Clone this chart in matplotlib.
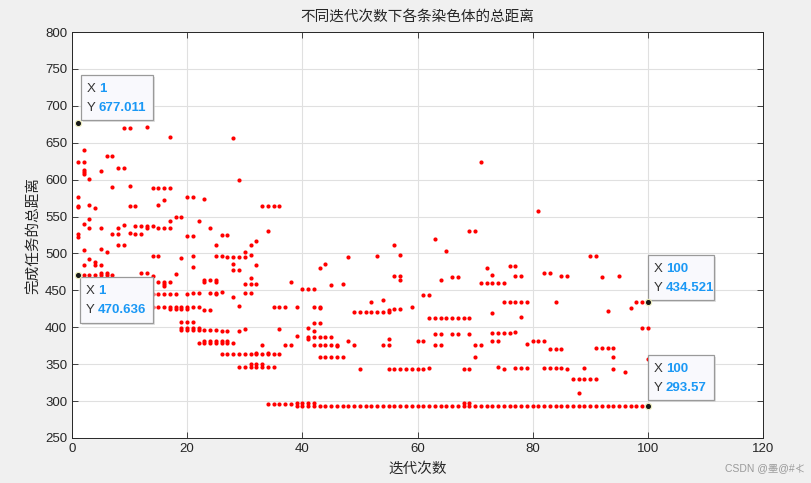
import matplotlib
matplotlib.use("Agg")
import matplotlib.pyplot as plt
from matplotlib.patches import Rectangle
from matplotlib.transforms import IdentityTransform, ScaledTranslation

plt.rcParams['font.family'] = ['Liberation Sans', 'Noto Sans CJK SC', 'DejaVu Sans']

# ---- data: distances of each chromosome per iteration ----
dist_iter_01_25 = [
    [677.011, 624, 577, 564, 563, 526, 522, 470.636],
    [640.5, 624, 613, 610, 607, 539.5, 505, 484, 470.3],
    [601, 566, 547, 534, 492, 470.3],
    [562, 488, 485, 470.3],
    [612, 534, 506, 485, 473, 470.3],
    [632, 502, 473, 470.3],
    [632, 590, 527, 470.3],
    [616, 535, 527, 511],
    [670, 616, 538, 511],
    [670, 591, 564, 528],
    [564, 537, 527],
    [537, 527, 473],
    [671, 537, 534, 473],
    [588, 537, 497, 470, 445, 428],
    [588, 566, 534, 497, 462, 445, 428],
    [588, 572, 534, 462, 459, 456, 445, 428],
    [658, 589, 544, 534, 462, 445, 428, 425],
    [549, 472, 445, 428, 425],
    [549, 494, 428, 425, 407, 399, 396],
    [577, 523, 445, 428, 425, 407, 399, 396],
    [577, 523, 497, 481, 447, 428, 407, 399, 396],
    [544, 447, 428, 399, 396, 379],
    [574, 464, 461, 424, 396, 382, 379],
    [534, 464, 447, 424, 396, 382, 379],
    [511, 497, 464, 461, 447, 445, 396, 382, 379],
]
dist_iter_26_50 = [
    [525.5, 497, 448, 395, 382, 379, 364],
    [525.5, 495.5, 395, 382, 379, 364],
    [656, 495.5, 486, 477, 441, 379, 364],
    [600, 495.5, 477, 429, 395, 364, 346],
    [502.6, 495.5, 458, 446, 397, 364, 346],
    [512, 498, 467, 458, 446, 364, 350, 346],
    [516.6, 484, 458, 365.6, 364, 350, 346],
    [563.7, 375.5, 364, 350, 346],
    [563.7, 530.5, 365.6, 364, 346, 296.5],
    [563.7, 427, 364, 346, 296.5],
    [563.7, 427, 398, 364, 296.5],
    [427, 375.5, 296.5],
    [461, 376.4, 296.5],
    [427, 387.6, 296.9, 293.57],
    [451.4, 296.9, 293.57],
    [451.4, 399, 386.7, 384, 296.9, 293.57],
    [451.4, 428, 406, 395.3, 386.7, 376.4, 296.9, 293.57],
    [480, 428, 425.8, 406, 386.7, 376.4, 360, 293.57],
    [486, 386.7, 376.4, 360, 293.57],
    [457.7, 386.7, 376.4, 360, 293.57],
    [376.4, 374.6, 360, 293.57],
    [458.6, 360, 293.57],
    [494.6, 380.9, 293.57],
    [421, 375.5, 293.57],
    [421, 343.2, 293.57],
]
dist_iter_51_75 = [
    [420.4, 293.57],
    [434.4, 420.4, 293.57],
    [495.9, 420.4, 293.57],
    [437, 420.4, 375.5, 293.57],
    [424, 420.4, 384.5, 375.5, 343.2, 293.57],
    [511.2, 469, 424.9, 343.2, 293.57],
    [497.7, 469, 463.6, 424.9, 343.2, 293.57],
    [343.2, 293.57],
    [427.6, 343.2, 293.57],
    [381.8, 343.2, 293.57],
    [444.2, 381.8, 343.2, 293.57],
    [444.2, 412.8, 345, 293.57],
    [519.3, 412.8, 390.8, 375.5, 293.57],
    [464.5, 412.8, 390.8, 375.5, 293.57],
    [503.5, 412.8, 293.57],
    [467.6, 412.8, 390.8, 293.57],
    [468.5, 412.8, 390.8, 293.57],
    [412.8, 343.2, 297, 293.57],
    [530.5, 412.8, 390.8, 343.2, 297, 293.57],
    [530.5, 375.5, 359.8, 293.57],
    [624.4, 459.5, 375.5, 293.57],
    [479.9, 459.5, 293.57],
    [470.7, 459.5, 420, 392.2, 381.8, 293.57],
    [459.5, 392.2, 381.8, 346.8, 293.57],
    [459.5, 434.4, 392.2, 343.2, 293.57],
]
dist_iter_76_100 = [
    [483, 434.4, 392.2, 293.57],
    [483, 469, 434.4, 393.5, 345, 293.57],
    [469.4, 434.4, 414.1, 345, 293.57],
    [434.4, 376.9, 345, 293.57],
    [381.8, 293.57],
    [557.4, 381.8, 293.57],
    [473, 381.8, 345, 293.57],
    [473, 371, 345, 293.57],
    [434.4, 371, 345, 293.57],
    [469.4, 371, 345, 293.57],
    [469.4, 343.2, 293.57],
    [330.6, 293.57],
    [330.6, 310.8, 293.57],
    [345, 330.6, 293.57],
    [495.9, 330.6, 293.57],
    [495.9, 371.5, 330.6, 293.57],
    [467.6, 371.5, 293.57],
    [421.8, 371.5, 293.57],
    [371.5, 359.8, 343.2, 293.57],
    [469.4, 293.57],
    [339.6, 293.57],
    [426.3, 293.57],
    [434.4, 293.57],
    [434.4, 399.3, 293.57],
    [434.521, 399.3, 357.1, 293.57],
]

tip_x = [1, 1, 100, 100]
tip_y = [677.011, 470.636, 434.521, 293.57]
tip_text_x = ['1', '1', '100', '100']
tip_text_y = ['677.011', '470.636', '434.521', '293.57']

title = '不同迭代次数下各条染色体的总距离'
xlabel = '迭代次数'
ylabel = '完成任务的总距离'

# ---- flatten ----
all_groups = dist_iter_01_25 + dist_iter_26_50 + dist_iter_51_75 + dist_iter_76_100
xs, ys = [], []
for i, vals in enumerate(all_groups, start=1):
    for v in vals:
        xs.append(i)
        ys.append(v)

fig = plt.figure(figsize=(8.11, 4.83), dpi=100, facecolor='#f0f0f0')
ax = fig.add_axes([72/811, 45/483, 691/811, 406/483])
ax.set_facecolor('white')

ax.plot(xs, ys, linestyle='none', marker='o', ms=3.0, mfc='#ff0000', mec='#ff0000',
        mew=0, zorder=3)

ax.set_xlim(0, 120)
ax.set_ylim(250, 800)
ax.set_xticks(range(0, 121, 20))
ax.set_yticks(range(250, 801, 50))
ax.grid(True, color='#e0e0e0', linewidth=0.8, zorder=0)
ax.set_axisbelow(True)
for s in ax.spines.values():
    s.set_color('#262626')
    s.set_linewidth(0.7)
ax.tick_params(direction='in', length=4, width=0.6, colors='#262626',
               labelsize=9.5, top=True, right=True)

ax.set_title(title, fontsize=10.5, color='#262626', pad=8)
ax.set_xlabel(xlabel, fontsize=10.5, color='#262626', labelpad=5)
ax.set_ylabel(ylabel, fontsize=10.5, color='#262626', labelpad=3)

# ---- data tips ----
# (dx, dy, w, h) in pixels relative to marker (display coords, y up)
boxes = [(3, 3, 72, 45), (2, -48, 73, 46), (0, 2, 66, 45), (0, 6, 66, 45)]
for x, y, tx, ty, (dx, dy, w, h) in zip(tip_x, tip_y, tip_text_x, tip_text_y, boxes):
    tr = IdentityTransform() + ScaledTranslation(x, y, ax.transData)
    ax.add_patch(Rectangle((dx + 2, dy - 2), w, h, transform=tr, facecolor='#d0d0d0',
                           edgecolor='none', zorder=5, clip_on=False, alpha=0.6))
    ax.add_patch(Rectangle((dx, dy), w, h, transform=tr, facecolor='#f9f9fd',
                           edgecolor='#9a9a9a', linewidth=0.9, zorder=6, clip_on=False))
    ax.text(dx + 6, dy + h - 14, 'X', transform=tr, fontsize=9.5, color='#333333',
            va='center', ha='left', zorder=7)
    ax.text(dx + 18, dy + h - 14, tx, transform=tr, fontsize=9.5, color='#1a98f5',
            fontweight='bold', va='center', ha='left', zorder=7)
    ax.text(dx + 6, dy + h - 33, 'Y', transform=tr, fontsize=9.5, color='#333333',
            va='center', ha='left', zorder=7)
    ax.text(dx + 18, dy + h - 33, ty, transform=tr, fontsize=9.5, color='#1a98f5',
            fontweight='bold', va='center', ha='left', zorder=7)

ax.plot(tip_x, tip_y, linestyle='none', marker='o', ms=4.5, mfc='#1a1a1a',
        mec='#f0f0c0', mew=0.8, zorder=8, clip_on=False)

fig.text(805/811, 1 - 468/483, 'CSDN @墨@#≮', fontsize=7.5, color='#9a9a9a',
         ha='right', va='center')

fig.savefig('out.png', dpi=100, facecolor=fig.get_facecolor())
